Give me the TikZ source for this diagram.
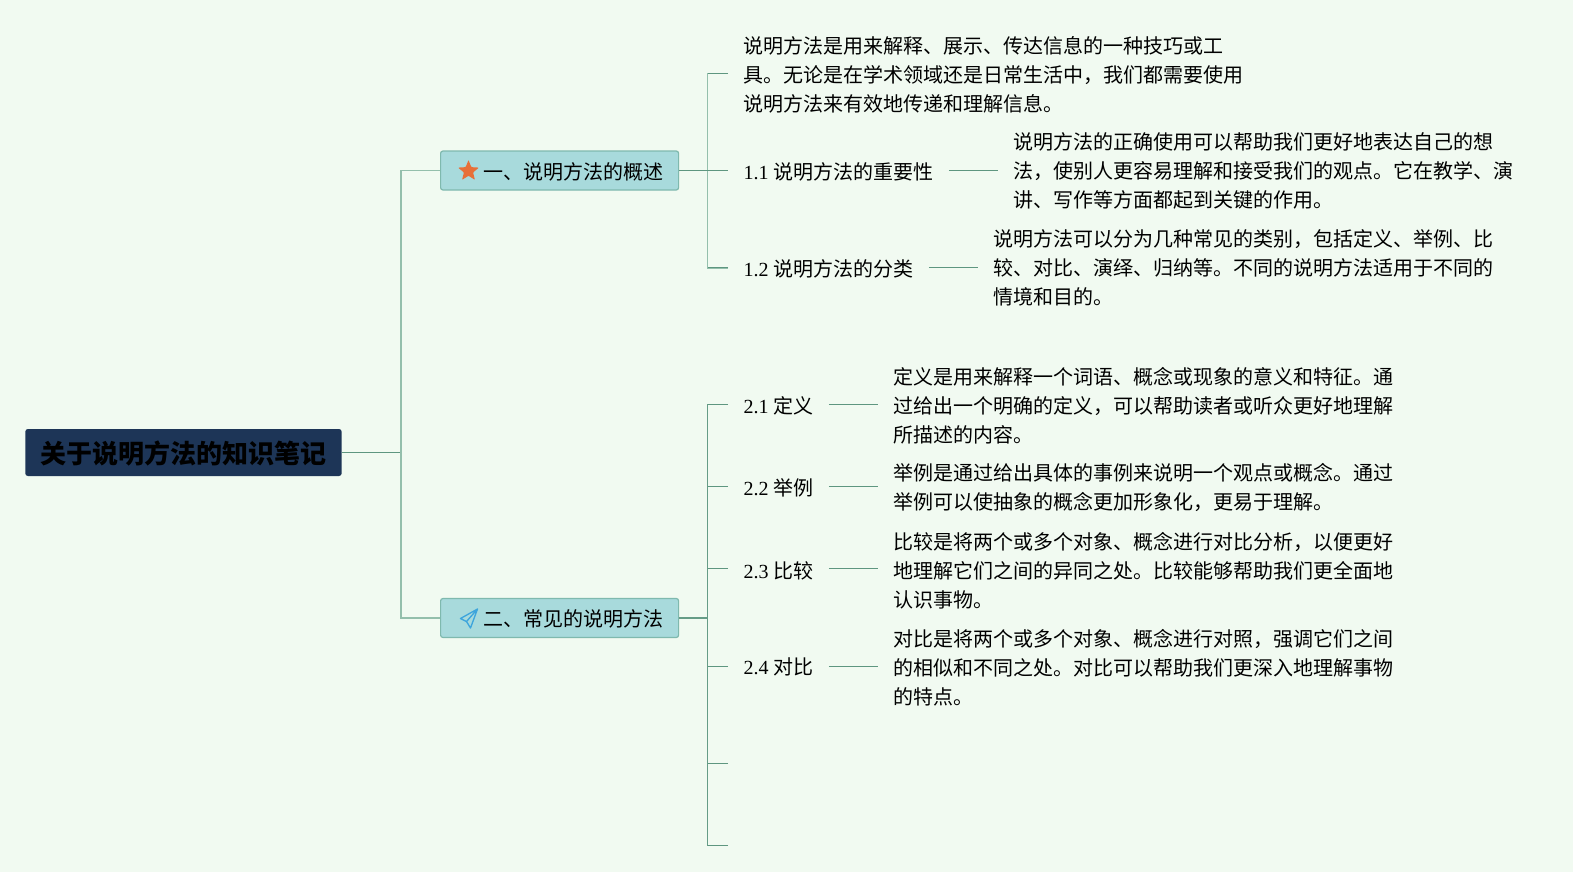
\documentclass[tikz,border=0pt]{standalone}
\usepackage{fontspec}
\setmainfont{Liberation Serif}
\newfontfamily\cjk{Noto Sans CJK SC}
\usetikzlibrary{shapes.geometric}
\definecolor{bg}{HTML}{F1FAF1}
\definecolor{navy}{HTML}{1D3557}
\definecolor{teal}{HTML}{A8DADC}
\definecolor{tealb}{HTML}{7FB9AE}
\definecolor{lnA}{HTML}{94BFAC}
\definecolor{lnB}{HTML}{5E9680}
\definecolor{starc}{HTML}{E76F38}
\definecolor{planec}{HTML}{3DA5DC}
\tikzset{
  x=0.75pt,y=-0.75pt,
  rootbox/.style={fill=navy,rounded corners=2pt,anchor=west,inner xsep=11.4pt,inner ysep=0pt,minimum height=35.25pt,text height=18.5pt,text depth=2.5pt,font=\fontsize{19.5pt}{23pt}\cjk\bfseries},
  branchbox/.style={fill=teal,draw=tealb,line width=0.9pt,rounded corners=1.8pt,anchor=west,inner xsep=11.25pt,inner ysep=0pt,minimum height=29.25pt,text height=14.5pt,text depth=1.5pt,font=\fontsize{15pt}{18pt}\cjk},
  leaf/.style={anchor=west,align=left,inner xsep=11.6pt,inner ysep=0pt,font=\fontsize{15pt}{21.75pt}\cjk},
  label/.style={leaf,text height=14.5pt,text depth=1.5pt},
  lowlabel/.style={leaf,text height=15.3pt,text depth=1.5pt},
  thinl/.style={draw=lnB,line width=0.75pt},
  spineA/.style={draw=lnA,line width=1.1pt},
  spineB/.style={draw=lnB!85!lnA,line width=1pt},
}
\newcommand{\pad}{\hspace*{21pt}}
\begin{document}
\begin{tikzpicture}
\useasboundingbox (0,0) rectangle (1573,871);
\fill[bg] (-6,-6) rectangle (1579,877);
% nodes
\node[rootbox] (root) at (25,452.5) {关于说明方法的知识笔记};
\node[branchbox] (b1) at (440,170.5) {\pad 一、说明方法的概述};
\node[branchbox] (b2) at (440,618) {\pad 二、常见的说明方法};
\node[star,star points=5,star point ratio=2.3,minimum size=16.5pt,inner sep=0pt,fill=starc,rounded corners=0.6pt] (ic1) at (468.5,171) {};
\coordinate (ic2) at (469.5,618);
\draw[planec,line width=1pt,line join=round] (ic2) ++(8,-9) -- ++(-17,9.5) -- ++(6,3) -- ++(4,6.5) -- cycle ++(0,0) -- ++(-11,12.5);

\node[leaf] (t0) at (728,75) {说明方法是用来解释、展示、传达信息的一种技巧或工\\具。无论是在学术领域还是日常生活中，我们都需要使用\\说明方法来有效地传递和理解信息。};
\node[label] (l11) at (728,170.5) {{\rmfamily 1.1} 说明方法的重要性};
\node[leaf] (t11) at (998,171) {说明方法的正确使用可以帮助我们更好地表达自己的想\\法，使别人更容易理解和接受我们的观点。它在教学、演\\讲、写作等方面都起到关键的作用。};
\node[label] (l12) at (728,267.8) {{\rmfamily 1.2} 说明方法的分类};
\node[leaf] (t12) at (978,268.3) {说明方法可以分为几种常见的类别，包括定义、举例、比\\较、对比、演绎、归纳等。不同的说明方法适用于不同的\\情境和目的。};
\node[lowlabel] (l21) at (728,404.3) {{\rmfamily 2.1} 定义};
\node[leaf] (t21) at (878,405.3) {定义是用来解释一个词语、概念或现象的意义和特征。通\\过给出一个明确的定义，可以帮助读者或听众更好地理解\\所描述的内容。};
\node[lowlabel] (l22) at (728,486.5) {{\rmfamily 2.2} 举例};
\node[leaf] (t22) at (878,487.7) {举例是通过给出具体的事例来说明一个观点或概念。通过\\举例可以使抽象的概念更加形象化，更易于理解。};
\node[lowlabel] (l23) at (728,568.8) {{\rmfamily 2.3} 比较};
\node[leaf] (t23) at (878,570.6) {比较是将两个或多个对象、概念进行对比分析，以便更好\\地理解它们之间的异同之处。比较能够帮助我们更全面地\\认识事物。};
\node[label] (l24) at (728,666) {{\rmfamily 2.4} 对比};
\node[leaf] (t24) at (878,667.8) {对比是将两个或多个对象、概念进行对照，强调它们之间\\的相似和不同之处。对比可以帮助我们更深入地理解事物\\的特点。};
% junctions and free ends
\coordinate (s0) at (401,452.5);
\coordinate (s1) at (707.7,170.5);
\coordinate (s2) at (707.7,618);
\coordinate (e0) at (728,73);
\coordinate (e25) at (728,763.5);
\coordinate (e26) at (728,845.7);
% root connectors
\draw[thinl] (root.east) -- (s0);
\draw[spineA] (b1.west) -| (s0) |- (b2.west);
% branch 1
\draw[spineA] (e0 -| s1) |- (l12.west);
\draw[thinl] (b1.east) -- (l11.west);
\draw[thinl] (e0) -- (e0 -| s1);
\draw[thinl] (l12.west) -- (l12.west -| s1);
\draw[thinl] (l11.east) -- (l11.east -| t11.west);
\draw[thinl] (l12.east) -- (l12.east -| t12.west);
% branch 2
\draw[spineB,line width=1.4pt] (b2.east) -- (s2);
\draw[spineB] (l21.west -| s2) -- (e26 -| s2);
\draw[thinl] (l21.west) -- (l21.west -| s2);
\foreach \n in {l22,l23,l24}{\draw[thinl] (\n.west) -- (\n.west -| s2);}
\draw[thinl] (e25) -- (e25 -| s2);
\draw[thinl] (e26) -- (e26 -| s2);
\draw[thinl] (l21.east) -- (l21.east -| t21.west);
\draw[thinl] (l22.east) -- (l22.east -| t22.west);
\draw[thinl] (l23.east) -- (l23.east -| t23.west);
\draw[thinl] (l24.east) -- (l24.east -| t24.west);
\end{tikzpicture}
\end{document}
